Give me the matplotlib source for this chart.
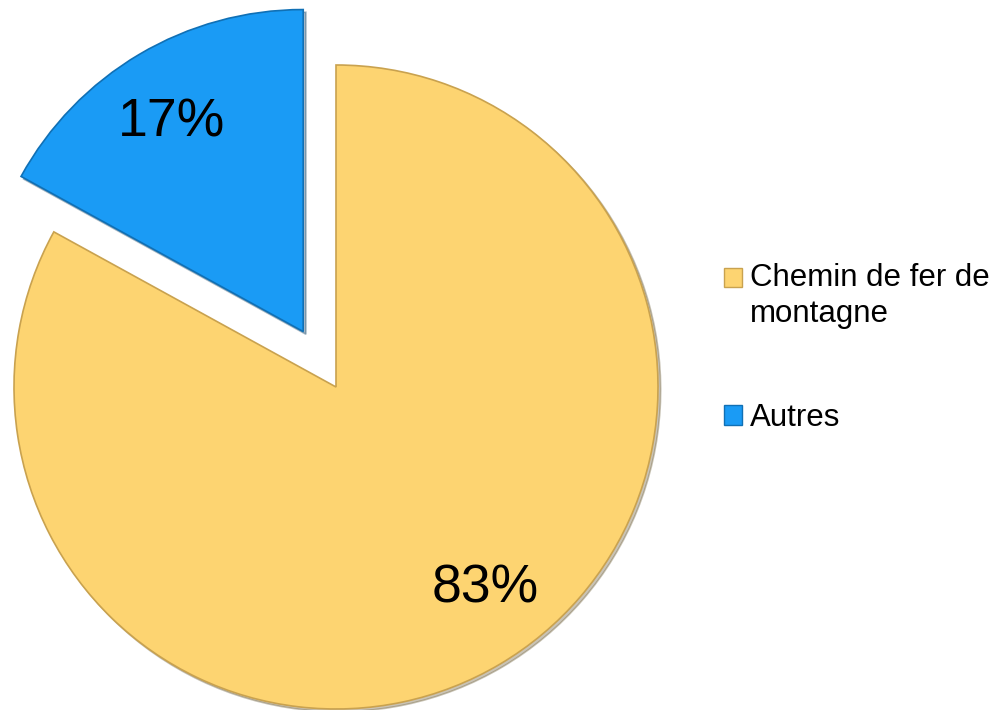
import matplotlib
matplotlib.use("Agg")
import matplotlib.pyplot as plt
from matplotlib.patches import Patch, Rectangle
from matplotlib.legend_handler import HandlerPatch

plt.rcParams['font.family'] = ['Liberation Sans', 'DejaVu Sans']

categories = ["Chemin de fer de\nmontagne", "Autres"]
values = [83, 17]
colors = ["#FDD471", "#1A9BF5"]
edge_colors = ["#C9A24F", "#1070B5"]
explode = [0, 0.2]

fig = plt.figure(figsize=(9.98, 7.10), dpi=100)
W, H = 998, 710
cx, cy, R = 336, 710 - 387, 322
lim = 1.3
half = lim * R
ax = fig.add_axes([(cx - half) / W, (cy - half) / H, 2 * half / W, 2 * half / H])

wedges, texts, autotexts = ax.pie(
    values, colors=colors, explode=explode, startangle=90, counterclock=False,
    autopct='%d%%', pctdistance=0.78, radius=1.0,
    shadow=dict(ox=0.006, oy=-0.006, shade=0.6, alpha=0.35),
    wedgeprops=dict(linewidth=1.2, antialiased=True),
    textprops=dict(fontsize=38.5, color='black'))
for w, ec in zip(wedges, edge_colors):
    w.set_edgecolor(ec)
ax.set_xlim(-lim, lim)
ax.set_ylim(-lim, lim)
ax.set_aspect('equal')
ax.axis('off')
# nudge labels toward their positions in the original
autotexts[0].set_position((0.463, -0.625))
autotexts[1].set_position((-0.511, 0.821))


class TopHandler(HandlerPatch):
    """Square legend key aligned with the first line of a multi-line label."""
    def __init__(self, counts):
        super().__init__()
        self.counts = counts

    def create_artists(self, legend, orig_handle, xdescent, ydescent, width, height, fontsize, trans):
        n = self.counts.get(id(orig_handle), 1)
        shift = 0.62 * fontsize * (n - 1)
        p = Rectangle((-xdescent, -ydescent + shift), width, height)
        self.update_prop(p, orig_handle, legend)
        p.set_transform(trans)
        return [p]


handles = [Patch(facecolor=c, edgecolor=e, linewidth=1.0) for c, e in zip(colors, edge_colors)]
counts = {id(h): lab.count("\n") + 1 for h, lab in zip(handles, categories)}
fs = 22.5
leg = fig.legend(handles, categories, loc='upper left',
                 bbox_to_anchor=(724 / W, 1 - 263 / H),
                 frameon=False, fontsize=fs, handlelength=0.58, handleheight=0.58,
                 handletextpad=0.26, labelspacing=2.35, borderaxespad=0, borderpad=0,
                 handler_map={Patch: TopHandler(counts)})
for t in leg.get_texts():
    t.set_linespacing(1.28)

fig.savefig("out.png", dpi=100)
